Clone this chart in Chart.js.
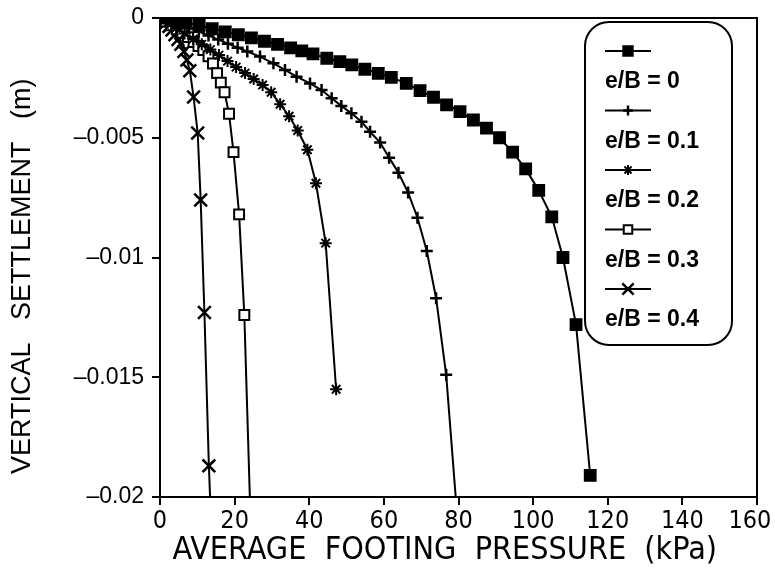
<!DOCTYPE html>
<html>
<head>
<meta charset="utf-8">
<script src="https://cdn.jsdelivr.net/npm/chart.js@4.4.1/dist/chart.umd.min.js"></script>
<style>
  html, body { margin: 0; padding: 0; background: #fff; }
  #wrap { width: 775px; height: 574px; }
</style>
</head>
<body>
<div id="wrap"><canvas id="settlement"></canvas></div>
<script>
// e/B = 0
const pressure0 = [0, 3.5, 7, 10.5, 14, 17.5, 21, 24.5, 28, 31.5, 35, 38, 41, 44.7, 48.2, 51.4, 54.9, 58.5, 62, 66, 69.7, 73.3, 76.8, 80.4, 84, 87.5, 91, 94.5, 98, 101.5, 105, 108, 111.5, 115.3];
const settle0 = [0, -0.0001, -0.0002, -0.0003, -0.00045, -0.00058, -0.0007, -0.00083, -0.00097, -0.0011, -0.00125, -0.00137, -0.0015, -0.00168, -0.00182, -0.00196, -0.00214, -0.00231, -0.00248, -0.00273, -0.00303, -0.00331, -0.00363, -0.00391, -0.00426, -0.0046, -0.005, -0.0056, -0.0063, -0.0072, -0.0083, -0.01, -0.0128, -0.0191];
// e/B = 0.1
const pressure1 = [0, 2.6, 5.2, 7.8, 10.4, 13, 15.6, 18.2, 20.8, 23.4, 26.8, 30.4, 33.5, 36.6, 40.2, 43.3, 46, 48.6, 51.3, 54, 56.3, 59, 61.4, 63.9, 66.5, 69, 71.5, 74, 76.7, 79.3];
const settle1 = [0, -0.00013, -0.00027, -0.00042, -0.00057, -0.00073, -0.0009, -0.00107, -0.00124, -0.0014, -0.00161, -0.00189, -0.00217, -0.00245, -0.00273, -0.00301, -0.00335, -0.00367, -0.00398, -0.00433, -0.00475, -0.0052, -0.00583, -0.00646, -0.00729, -0.00834, -0.00973, -0.0117, -0.0149, -0.0201];
// e/B = 0.2
const pressure2 = [0, 2.1, 4.3, 6.6, 8.9, 11.2, 13.5, 15.8, 18.1, 20.4, 22.8, 25.1, 27.5, 29.8, 32.2, 34.6, 36.9, 39.5, 41.8, 44.4, 47.2];
const settle2 = [0, -0.0002, -0.00042, -0.00065, -0.00088, -0.0011, -0.00132, -0.00155, -0.0018, -0.00205, -0.0023, -0.00255, -0.0028, -0.0031, -0.0036, -0.0041, -0.0047, -0.0055, -0.0069, -0.0094, -0.0155];
// e/B = 0.3
const pressure3 = [0, 1.5, 3, 4.5, 6, 7.5, 9, 10.3, 11.6, 13, 14.2, 15.3, 16.3, 17.3, 18.5, 19.7, 21.2, 22.6, 24.1];
const settle3 = [0, -0.00015, -0.0003, -0.00047, -0.00063, -0.0008, -0.001, -0.00117, -0.00134, -0.0016, -0.0019, -0.0023, -0.0027, -0.0031, -0.004, -0.0056, -0.0082, -0.0124, -0.0201];
// e/B = 0.4
const pressure4 = [0, 0.8, 1.6, 2.4, 3.2, 4, 4.8, 5.6, 6.4, 7.2, 8, 9, 10.1, 10.9, 11.9, 13.1, 13.45];
const settle4 = [0, -0.0001, -0.0002, -0.00035, -0.0005, -0.0007, -0.0009, -0.0011, -0.0014, -0.00175, -0.0022, -0.0033, -0.0048, -0.0076, -0.0123, -0.0187, -0.0201];

const seriesLabels = ["e/B = 0", "e/B = 0.1", "e/B = 0.2", "e/B = 0.3", "e/B = 0.4"];
const xTicks = [0, 20, 40, 60, 80, 100, 120, 140, 160];
const yTicks = [0, -0.005, -0.01, -0.015, -0.02];

const xs = [pressure0, pressure1, pressure2, pressure3, pressure4];
const ys = [settle0, settle1, settle2, settle3, settle4];

const markers = [
  { pointStyle: "rect", radius: 8, fill: "#000", width: 1.5 },
  { pointStyle: "cross", radius: 6, fill: "#000", width: 2.5 },
  { pointStyle: "star", radius: 6, fill: "#000", width: 2 },
  { pointStyle: "rect", radius: 7, fill: "#fff", width: 2 },
  { pointStyle: "crossRot", radius: 9, fill: "#000", width: 2.5 },
];

const datasets = xs.map((px, i) => ({
  label: seriesLabels[i],
  data: px.map((x, j) => ({ x: x, y: ys[i][j] })),
  borderColor: "#000",
  borderWidth: 2,
  backgroundColor: markers[i].fill,
  pointStyle: markers[i].pointStyle,
  pointBackgroundColor: markers[i].fill,
  pointBorderColor: "#000",
  pointBorderWidth: markers[i].width,
  // points that run past the bottom axis get no marker
  pointRadius: (c) => (c.raw && c.raw.y < -0.02 ? 0 : markers[i].radius),
  tension: 0,
  fill: false,
}));

// rounded legend box, sample line on top and label under it
const boxLegend = {
  id: "boxLegend",
  afterDraw(chart) {
    const ctx = chart.ctx;
    ctx.save();
    ctx.strokeStyle = "#000";
    ctx.lineWidth = 2;
    ctx.beginPath();
    ctx.roundRect(585, 22, 147, 323, 24);
    ctx.fillStyle = "#fff";
    ctx.fill();
    ctx.stroke();

    chart.data.datasets.forEach((ds, i) => {
      let sy = 51 + 59.5 * i;
      ctx.strokeStyle = "#000";
      ctx.lineWidth = 2;
      ctx.beginPath();
      ctx.moveTo(605, sy);
      ctx.lineTo(651, sy);
      ctx.stroke();
      ctx.fillStyle = markers[i].fill;
      ctx.lineWidth = markers[i].width;
      Chart.helpers.drawPoint(ctx, {
        pointStyle: markers[i].pointStyle,
        radius: markers[i].radius - 1,
        borderWidth: markers[i].width,
        rotation: 0,
      }, 628, sy);

      ctx.fillStyle = "#000";
      ctx.font = "bold 23px 'Liberation Sans', Arial, sans-serif";
      ctx.textAlign = "left";
      ctx.textBaseline = "middle";
      ctx.fillText(ds.label, 605, sy + 31);
    });
    ctx.restore();
  },
};

// top and right edges of the frame
const frame = {
  id: "frame",
  afterDatasetsDraw(chart) {
    const a = chart.chartArea;
    const ctx = chart.ctx;
    ctx.save();
    ctx.strokeStyle = "#000";
    ctx.lineWidth = 2;
    ctx.beginPath();
    ctx.moveTo(a.left, a.top);
    ctx.lineTo(a.right, a.top);
    ctx.lineTo(a.right, a.bottom);
    ctx.stroke();
    ctx.restore();
  },
};

const tickFontY = { family: "'Liberation Sans', Arial, sans-serif", size: 23 };
const tickFontX = { family: "'Liberation Sans Narrow', 'DejaVu Sans Condensed', sans-serif", size: 25 };

new Chart(document.getElementById("settlement").getContext("2d"), {
  type: "scatter",
  data: { datasets: datasets },
  options: {
    responsive: true,
    maintainAspectRatio: false,
    animation: false,
    showLine: true,
    layout: { padding: { top: 18, right: 18, left: 6, bottom: 4 } },
    plugins: {
      legend: { display: false },
      tooltip: { enabled: false },
    },
    scales: {
      x: {
        type: "linear",
        min: 0,
        max: 160,
        afterBuildTicks: (s) => { s.ticks = xTicks.map((v) => ({ value: v })); },
        afterFit: (s) => {
          s.height = 73;
          s.paddingLeft = 0;
          s.paddingRight = 0;
        },
        border: { display: true, color: "#000", width: 2 },
        grid: { drawOnChartArea: false, drawTicks: true, tickLength: 8, color: "#000", lineWidth: 2 },
        ticks: {
          color: "#000",
          font: tickFontX,
          padding: 1,
          maxRotation: 0,
          // last label nudged left so it stays inside the page
          callback: (v) => (v === 160 ? "160  " : String(v)),
        },
        title: {
          display: true,
          text: "AVERAGE  FOOTING  PRESSURE  (kPa)   ",
          color: "#000",
          font: { family: "'Liberation Sans Narrow', 'DejaVu Sans Condensed', sans-serif", size: 32 },
          padding: { top: 0, bottom: 0 },
        },
      },
      y: {
        type: "linear",
        min: -0.02,
        max: 0,
        afterBuildTicks: (s) => { s.ticks = yTicks.map((v) => ({ value: v })); },
        afterFit: (s) => {
          s.width = 154;
          s.paddingTop = 0;
          s.paddingBottom = 0;
        },
        border: { display: true, color: "#000", width: 2 },
        grid: { drawOnChartArea: false, drawTicks: true, tickLength: 8, color: "#000", lineWidth: 2 },
        ticks: {
          color: "#000",
          font: tickFontY,
          padding: 8,
          callback: (v) => (v === 0 ? "0" : "\u2013" + String(Math.abs(v))),
        },
        title: {
          display: true,
          text: "VERTICAL   SETTLEMENT   (m)     ",
          color: "#000",
          font: { family: "'Liberation Sans', Arial, sans-serif", size: 27 },
          padding: { top: 0, bottom: 0 },
        },
      },
    },
  },
  plugins: [frame, boxLegend],
});
</script>
</body>
</html>
